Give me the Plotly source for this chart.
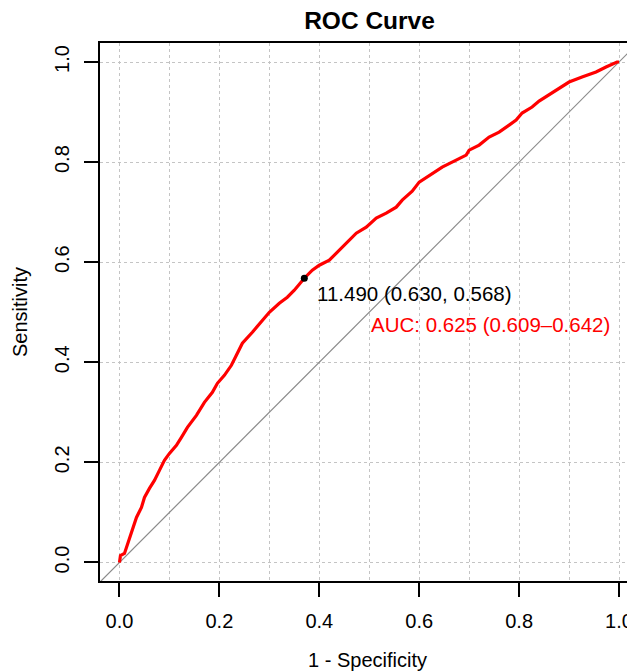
import plotly.graph_objects as go

# ROC curve points (1 - specificity, sensitivity)
fpr = [0.000, 0.002, 0.010, 0.014, 0.020, 0.026, 0.034, 0.044, 0.050, 0.060,
       0.070, 0.080, 0.090, 0.100, 0.114, 0.124, 0.136, 0.154, 0.170, 0.186,
       0.196, 0.210, 0.224, 0.234, 0.246, 0.266, 0.286, 0.300, 0.320, 0.336,
       0.350, 0.370, 0.386, 0.400, 0.420, 0.440, 0.460, 0.474, 0.494, 0.514,
       0.534, 0.554, 0.566, 0.586, 0.600, 0.626, 0.646, 0.674, 0.694, 0.700,
       0.720, 0.740, 0.760, 0.780, 0.794, 0.806, 0.826, 0.840, 0.866, 0.900,
       0.926, 0.954, 0.974, 0.996, 1.000]
tpr = [0.000, 0.014, 0.018, 0.030, 0.050, 0.070, 0.090, 0.110, 0.130, 0.148,
       0.164, 0.184, 0.204, 0.218, 0.234, 0.250, 0.270, 0.294, 0.320, 0.340,
       0.358, 0.374, 0.394, 0.414, 0.438, 0.460, 0.484, 0.500, 0.518, 0.530,
       0.544, 0.568, 0.584, 0.594, 0.604, 0.624, 0.644, 0.658, 0.670, 0.688,
       0.698, 0.710, 0.724, 0.742, 0.760, 0.778, 0.790, 0.804, 0.814, 0.824,
       0.834, 0.850, 0.860, 0.874, 0.884, 0.898, 0.910, 0.922, 0.938, 0.960,
       0.970, 0.980, 0.990, 1.000, 1.000]

# Best threshold point
best_threshold = 11.490
best_specificity = 0.630
best_sensitivity = 0.568

# AUC with confidence interval
auc_value = 0.625
auc_ci = [0.609, 0.642]

# Chance diagonal
diag_x = [-0.1, 1.1]
diag_y = [-0.1, 1.1]

tick_vals = [0.0, 0.2, 0.4, 0.6, 0.8, 1.0]
tick_text = ["0.0", "0.2", "0.4", "0.6", "0.8", "1.0"]

FONT = "Liberation Sans, Arial, sans-serif"
GRID = "#c4c4c4"

# the page body adds an 8px offset, so the figure is sized to end at the window edge
W, H = 627, 664

fig = go.Figure()
fig.add_trace(go.Scatter(x=diag_x, y=diag_y, mode="lines",
                         line=dict(color="#8a8a8a", width=1.2),
                         hoverinfo="skip", showlegend=False))
fig.add_trace(go.Scatter(x=fpr, y=tpr, mode="lines",
                         line=dict(color="#ff0000", width=3.2),
                         showlegend=False))
bx = 1 - best_specificity
fig.add_trace(go.Scatter(x=[bx], y=[best_sensitivity], mode="markers",
                         marker=dict(color="black", size=7),
                         showlegend=False))

fig.add_annotation(x=bx + 0.021, y=best_sensitivity - 0.031, xref="x", yref="y",
                   text=f"{best_threshold:.3f} ({best_specificity:.3f}, {best_sensitivity:.3f})",
                   showarrow=False, xanchor="left", yanchor="middle",
                   font=dict(family=FONT, size=20.5, color="black"))
fig.add_annotation(x=0.5, y=0.475, xref="x", yref="y",
                   text=f"AUC: {auc_value:.3f} ({auc_ci[0]:.3f}\u2013{auc_ci[1]:.3f})",
                   showarrow=False, xanchor="left", yanchor="middle",
                   font=dict(family=FONT, size=20.5, color="#ff0000"))

axis_common = dict(
    tickmode="array", tickvals=tick_vals, ticktext=tick_text,
    showgrid=True, gridcolor=GRID, gridwidth=1.4, griddash="3px,3px",
    zeroline=False, showline=True, linecolor="black", linewidth=1.8,
    ticks="outside", ticklen=14, tickwidth=1.8, tickcolor="black",
    tickfont=dict(family=FONT, size=20, color="black"),
    automargin=False,
)

fig.update_xaxes(
    **axis_common, range=[-0.039, 1.032], mirror=True,
    minor=dict(tickvals=[0.1, 0.3, 0.5, 0.7, 0.9], showgrid=True, gridcolor=GRID,
               gridwidth=1.4, griddash="3px,3px", ticks=""),
    title=dict(text="1 - Specificity", font=dict(family=FONT, size=20, color="black"),
               standoff=22),
    ticklabelstandoff=7,
)
fig.update_yaxes(
    **axis_common, range=[-0.037, 1.038], tickangle=-90,
    title=dict(text="Sensitivity", font=dict(family=FONT, size=20, color="black"),
               standoff=18),
    ticklabelstandoff=7,
)

fig.update_layout(
    width=W, height=H,
    margin=dict(l=92, r=0, t=35, b=91, autoexpand=False),
    paper_bgcolor="white", plot_bgcolor="white",
    font=dict(family=FONT, size=20, color="black"),
    title=dict(text="<b>ROC Curve</b>", x=361.5 / W, xref="container", xanchor="center",
               y=1 - 12 / H, yref="container", yanchor="middle",
               font=dict(family=FONT, size=24.5, color="black")),
    showlegend=False,
)

fig.write_html("out.html")
